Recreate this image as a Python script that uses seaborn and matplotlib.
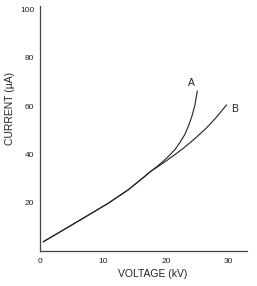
import matplotlib
matplotlib.use("Agg")
import matplotlib.pyplot as plt
import seaborn as sns
import pandas as pd

# Data
voltage_a = [0.5, 5.0, 10.8, 14.0, 16.6, 17.5, 18.5, 19.5, 20.5, 21.5, 22.3, 23.0, 23.6, 24.1, 24.6, 25.0]
current_a = [3.8, 10.7, 19.7, 25.3, 30.8, 32.8, 34.8, 37.0, 39.4, 42.2, 45.2, 48.2, 51.8, 55.5, 60.2, 66.3]
voltage_b = [0.5, 5.0, 10.8, 14.0, 16.6, 17.5, 19.5, 21.0, 22.7, 24.5, 26.4, 28.0, 29.65]
current_b = [3.8, 10.7, 19.7, 25.3, 30.8, 32.8, 36.3, 39.1, 42.4, 46.3, 50.8, 55.3, 60.5]
curve_names = ["A", "B"]
x_ticks = [0, 10, 20, 30]
y_ticks = [20, 40, 60, 80, 100]
x_label = "VOLTAGE (kV)"
y_label = "CURRENT (µA)"

sns.set_style("white")
plt.rcParams["font.family"] = ["Liberation Sans", "DejaVu Sans"]

df = pd.concat([
    pd.DataFrame({"V": voltage_a, "I": current_a, "curve": curve_names[0]}),
    pd.DataFrame({"V": voltage_b, "I": current_b, "curve": curve_names[1]}),
])

fig = plt.figure(figsize=(2.57, 2.86), dpi=100)
ax = fig.add_axes([40 / 257, 35 / 286, 207 / 257, 245 / 286])

for name in curve_names:
    sub = df[df["curve"] == name]
    sns.lineplot(data=sub, x="V", y="I", ax=ax, color="#222222", lw=0.8,
                 sort=False, estimator=None, legend=False)

ax.set_xlim(0, 32.9)
ax.set_ylim(0, 101.5)
ax.set_xticks(x_ticks)
ax.set_yticks(y_ticks)
ax.tick_params(axis="both", direction="in", length=3, width=0.8,
               colors="#333333", labelsize=6, labelcolor="#222222")
ax.tick_params(axis="y", pad=4)
ax.tick_params(axis="x", pad=5)

for s in ["top", "right"]:
    ax.spines[s].set_visible(False)
for s in ["left", "bottom"]:
    ax.spines[s].set_color("#444444")
    ax.spines[s].set_linewidth(0.9)

ax.set_xlabel(x_label, fontsize=7.5, color="#222222")
ax.set_ylabel(y_label, fontsize=7.5, color="#222222")
ax.xaxis.set_label_coords(0.546, -0.075)
ax.yaxis.set_label_coords(-0.12, 0.58)

# Curve labels next to line ends
ax.text(voltage_a[-1] - 1.0, current_a[-1] + 3.5, curve_names[0], fontsize=7.5,
        ha="center", va="center", color="#222222")
ax.text(voltage_b[-1] + 1.2, current_b[-1] - 1.5, curve_names[1], fontsize=7.5,
        ha="center", va="center", color="#222222")

fig.savefig("out.png", dpi=100, facecolor="white")
